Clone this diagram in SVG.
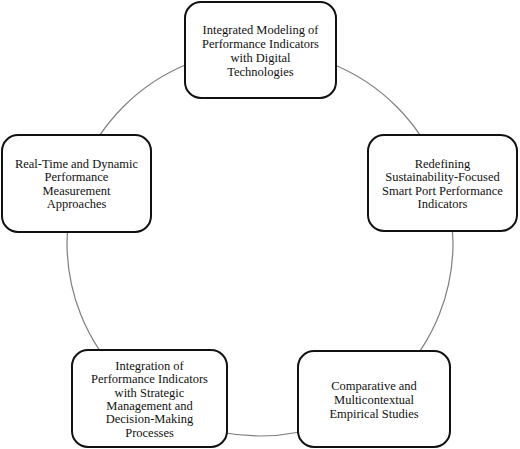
<svg xmlns="http://www.w3.org/2000/svg" width="520" height="449" viewBox="0 0 520 449">
<style>
.box{fill:#fff;stroke:#111;stroke-width:2}
.t{font-family:"Liberation Serif","Times New Roman",serif;font-size:12.5px;fill:#111;text-anchor:middle}
.c{fill:none;stroke:#7f7f7f;stroke-width:1.2}
</style>
<rect width="520" height="449" fill="#fff"/>
<g id="connectors">
<circle class="c" cx="260" cy="243" r="193"/>
</g>
<g id="n1">
<rect class="box" x="185" y="2" width="151" height="96" rx="16"/>
<text class="t" x="260.5" y="33.5">Integrated Modeling of</text>
<text class="t" x="260.5" y="47.5">Performance Indicators</text>
<text class="t" x="260.5" y="61.5">with Digital</text>
<text class="t" x="260.5" y="75.5">Technologies</text>
</g>
<g id="n2">
<rect class="box" x="368" y="135" width="149" height="96" rx="16"/>
<text class="t" x="442.5" y="167.5">Redefining</text>
<text class="t" x="442.5" y="181">Sustainability-Focused</text>
<text class="t" x="442.5" y="194.5">Smart Port Performance</text>
<text class="t" x="442.5" y="208">Indicators</text>
</g>
<g id="n3">
<rect class="box" x="298" y="351" width="152" height="96" rx="16"/>
<text class="t" x="374" y="389.5">Comparative and</text>
<text class="t" x="374" y="403.5">Multicontextual</text>
<text class="t" x="374" y="417.5">Empirical Studies</text>
</g>
<g id="n4">
<rect class="box" x="72" y="350" width="155" height="97" rx="16"/>
<text class="t" x="149.5" y="369.5">Integration of</text>
<text class="t" x="149.5" y="383">Performance Indicators</text>
<text class="t" x="149.5" y="396.5">with Strategic</text>
<text class="t" x="149.5" y="410">Management and</text>
<text class="t" x="149.5" y="423">Decision-Making</text>
<text class="t" x="149.5" y="436.5">Processes</text>
</g>
<g id="n5">
<rect class="box" x="2" y="135" width="149" height="97" rx="16"/>
<text class="t" x="76.5" y="167.5">Real-Time and Dynamic</text>
<text class="t" x="76.5" y="181">Performance</text>
<text class="t" x="76.5" y="194.5">Measurement</text>
<text class="t" x="76.5" y="208">Approaches</text>
</g>
</svg>
